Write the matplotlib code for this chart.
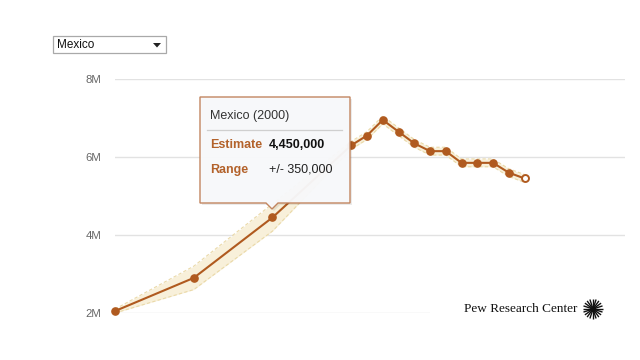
import matplotlib
matplotlib.use("Agg")
import matplotlib.pyplot as plt
from matplotlib.patches import Rectangle, Polygon
import numpy as np

# ---- data ----
years = [1990, 1995, 2000, 2005, 2006, 2007, 2008, 2009, 2010, 2011, 2012, 2013, 2014, 2015, 2016]
estimate_m = [2.05, 2.90, 4.45, 6.30, 6.55, 6.95, 6.65, 6.35, 6.15, 6.15, 5.85, 5.85, 5.85, 5.60, 5.45]
range_m = [0.05, 0.30, 0.35, 0.10, 0.10, 0.10, 0.10, 0.10, 0.10, 0.10, 0.10, 0.10, 0.10, 0.10, 0.10]
ytick_vals = [2, 4, 6, 8]
ytick_labels = ["2M", "4M", "6M", "8M"]
country = "Mexico"
tip_year = "2000"
tip_estimate = "4,450,000"
tip_range = "+/- 350,000"

W, H = 640, 360
def fx(x): return x / W
def fy(y): return 1 - y / H

BROWN = "#b05a1f"
BAND = "#f8f0da"
BAND_EDGE = "#ead9a8"

fig = plt.figure(figsize=(6.4, 3.6), dpi=100)
fig.patch.set_facecolor("white")
plt.rcParams["font.family"] = ["Liberation Sans", "DejaVu Sans"]

# axes: 1990 at x=115, 15.75 px/yr ; 2M at y=313, 8M at y=79
x0, x1 = 115, 625
yr0 = 1990
yr1 = yr0 + (x1 - x0) / 15.75
ax = fig.add_axes([fx(x0), fy(313), (x1 - x0) / W, (313 - 79) / H])
ax.set_xlim(yr0, yr1)
ax.set_ylim(2, 8)
for s in ax.spines.values():
    s.set_visible(False)
ax.set_xticks([])
ax.set_yticks(ytick_vals)
ax.set_yticklabels(ytick_labels, color="#666666", fontsize=8.2)
ax.tick_params(axis="y", length=0, pad=10)
ax.grid(axis="y", color="#e2e2e2", linewidth=1)
ax.set_axisbelow(True)

yrs = np.array(years, dtype=float)
est = np.array(estimate_m)
rng = np.array(range_m)
ax.fill_between(yrs, est - rng, est + rng, color=BAND, linewidth=0, zorder=2, clip_on=False)
ax.plot(yrs, est + rng, color=BAND_EDGE, linewidth=0.8, linestyle=(0, (3, 2)), zorder=2.5, clip_on=False)
ax.plot(yrs, est - rng, color=BAND_EDGE, linewidth=0.8, linestyle=(0, (3, 2)), zorder=2.5, clip_on=False)
ax.plot(yrs, est, color=BROWN, linewidth=1.5, zorder=3, clip_on=False)
ax.plot(yrs[:-1], est[:-1], "o", color=BROWN, markersize=5.2, zorder=4, clip_on=False)
ax.plot(yrs[-1:], est[-1:], "o", markerfacecolor="white", markeredgecolor=BROWN,
        markeredgewidth=1.4, markersize=5, zorder=4, clip_on=False)

# white box under logo (covers the right part of the 2M gridline)
fig.patches.append(Rectangle((fx(430), fy(322)), (628 - 430) / W, (322 - 295) / H,
                             transform=fig.transFigure, facecolor="white", edgecolor="none", zorder=1))
fig.text(fx(464), fy(309), "Pew Research Center", fontsize=9.5,
         family=["Liberation Serif", "DejaVu Serif"], color="#111111", va="center", ha="left", zorder=5)
# sunburst logo
lax = fig.add_axes([fx(582), fy(320), 22 / W, 22 / H], zorder=3)
lax.set_xlim(-11, 11); lax.set_ylim(-11, 11); lax.axis("off")
for a in np.linspace(0, 2 * np.pi, 20, endpoint=False):
    lax.plot([1.8 * np.cos(a), 10 * np.cos(a)], [1.8 * np.sin(a), 10 * np.sin(a)],
             color="#111111", linewidth=1.0, solid_capstyle="butt")
lax.plot([0], [0], "o", color="#111111", markersize=3)

# dropdown
fig.patches.append(Rectangle((fx(53), fy(53)), (166 - 53) / W, (53 - 36) / H,
                             transform=fig.transFigure, facecolor="white", edgecolor="#a9a9a9",
                             linewidth=0.9, zorder=1))
fig.text(fx(57), fy(45), country, fontsize=8.5, color="#111111", va="center", ha="left")
fig.patches.append(Polygon([(fx(153), fy(43)), (fx(161), fy(43)), (fx(157), fy(47.5))], closed=True,
                           transform=fig.transFigure, facecolor="#222222", edgecolor="none", zorder=2))

# tooltip
pts = [(200, 97), (350, 97), (350, 203), (278, 203), (272, 209), (266, 203), (200, 203)]
shadow = Polygon([(fx(x + 2), fy(y + 2)) for x, y in pts], closed=True, transform=fig.transFigure,
                 facecolor="#000000", alpha=0.08, edgecolor="none", zorder=6)
tip = Polygon([(fx(x), fy(y)) for x, y in pts], closed=True, transform=fig.transFigure,
              facecolor="#f8f9fb", alpha=0.96, edgecolor="#c0815a", linewidth=1.0, zorder=7)
fig.patches.extend([shadow, tip])
fig.lines.append(plt.Line2D([fx(207), fx(342)], [fy(130), fy(130)], transform=fig.transFigure,
                            color="#cfcfcf", linewidth=0.9, zorder=8))
fs = 9
fig.text(fx(210), fy(116), f"{country} ({tip_year})", fontsize=fs, color="#333333",
         va="center", ha="left", zorder=9)
fig.text(fx(210), fy(145), "Estimate", fontsize=fs, color="#b3622b", fontweight="bold",
         va="center", ha="left", zorder=9)
fig.text(fx(269), fy(145), tip_estimate, fontsize=fs, color="#111111", fontweight="bold",
         va="center", ha="left", zorder=9)
fig.text(fx(210), fy(170), "Range", fontsize=fs, color="#b3622b", fontweight="bold",
         va="center", ha="left", zorder=9)
fig.text(fx(269), fy(170), tip_range, fontsize=fs, color="#222222",
         va="center", ha="left", zorder=9)

fig.savefig("out.png", dpi=100, facecolor="white")
